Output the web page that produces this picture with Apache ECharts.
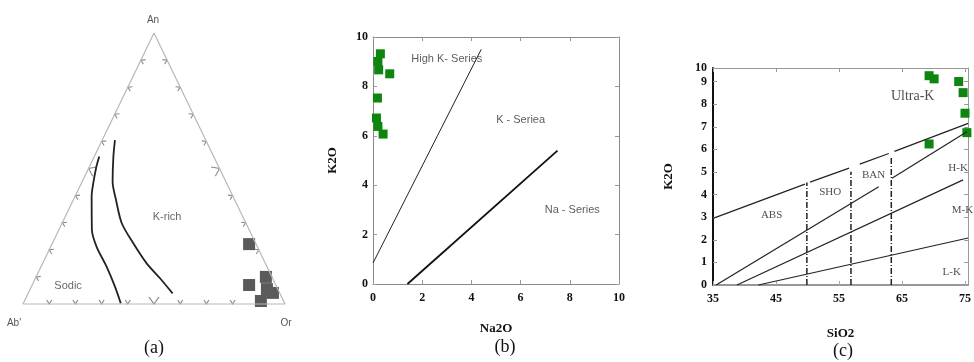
<!DOCTYPE html>
<html><head><meta charset="utf-8">
<script src="https://cdn.jsdelivr.net/npm/echarts@6/dist/echarts.min.js"></script>
<style>html,body{margin:0;padding:0;background:#fff}#c{width:974px;height:362px}</style>
</head><body><div id="c"></div>
<script>
// ---------- Panel (a): ternary An - Ab' - Or (plot units: x along base 0-100, y height 0-100) ----------
const aCorners = [[0,0],[100,0],[50,100],[0,0]];
const aTickFractions = [0.1,0.2,0.3,0.4,0.5,0.6,0.7,0.8,0.9];
const aSodicBoundary = [[29.1,54.4],[27.9,50.2],[26.6,43.3],[26.2,39.6],[26.3,27.3],[28.1,21.1],[31.9,13.8],[35.1,6.4],[37.3,0.3]];
const aKrichBoundary = [[35.1,60.5],[34.5,54.4],[34.2,45.1],[35.5,38.4],[37.7,29.8],[42.1,22.4],[47.2,15.0],[52.3,9.5],[57.1,3.9]];
const aSamples = [[86.3,22.1],[86.3,7.0],[92.7,10.0],[93.1,5.5],[95.4,4.1],[90.8,1.1]];
const aRegionNames = ['K-rich','Sodic'];
const aRegionAt = [[55,32.1],[17.2,6.6]];
const aVertexNames = ['An',"Ab'",'Or'];

// ---------- Panel (b): K2O vs Na2O ----------
const bHighKLine = [[0,0.85],[4.4,9.5]];
const bNaLine = [[1.4,0],[7.5,5.4]];
const bSamples = [[0.3,9.32],[0.2,9.01],[0.23,8.67],[0.68,8.51],[0.18,7.53],[0.14,6.72],[0.2,6.38],[0.41,6.07]];
const bRegionNames = ['High K- Series','K - Seriea','Na - Series'];
const bRegionAt = [[3.0,9.1],[6.0,6.65],[8.1,3.0]];

// ---------- Panel (c): K2O vs SiO2 ----------
const cUltraKLine = [[[35,2.95],[49.6,4.46]],[[50.4,4.55],[56.6,5.17]],[[58.3,5.35],[62.9,5.82]],[[63.8,5.91],[75.5,7.15]]];
const cShoLine = [[[35.5,0],[61.3,4.35]],[[63.4,4.72],[75.3,6.78]]];
const cHKLine = [[38.8,0],[74.7,4.65]];
const cMKLine = [[42.2,0],[75.5,2.08]];
const cDividers = [[[49.9,0],[49.9,4.53]],[[56.9,0],[56.9,5.01]],[[63.3,0],[63.3,5.68]]];
const cSamples = [[69.3,9.26],[70.1,9.12],[74.0,9.0],[74.7,8.51],[75.0,7.6],[75.3,6.74],[69.3,6.24]];
const cRegionNames = ['Ultra-K','ABS','SHO','BAN','H-K','M-K','L-K'];
const cRegionAt = [[66.7,8.33],[44.3,3.1],[53.6,4.13],[60.5,4.87],[73.9,5.16],[74.6,3.32],[72.9,0.59]];
const cYTop = 9.6;     // the reference's top tick, printed as "10"
const cYTopLabel = '10';

const panelLabels = ['(a)','(b)','(c)'];

// ---------- layout ----------
const serif = '"Liberation Serif","Times New Roman",serif';
const sans = '"Liberation Sans",Arial,sans-serif';
const G = [
  {left:23, top:33, width:262, height:271},
  {left:373, top:37, width:246, height:247},
  {left:713, top:68, width:260, height:217}
];

// chevron tick marks on the ternary sides
function triTickData() {
  const W = G[0].width, H = G[0].height, L = Math.hypot(W/2, H);
  const phi = Math.atan2(W/2, H) * 180 / Math.PI;
  const out = [];
  aTickFractions.forEach(f => {
    const big = Math.abs(f - 0.5) < 1e-9;
    const off = big ? 3.5 : 2;
    const size = big ? [10,7] : [5,4];
    out.push({value:[f*100, off/H*100], symbolSize:size, symbolRotate:0});
    out.push({value:[50*f + H/L*off*100/W, 100*f - (W/2)/L*off*100/H], symbolSize:size, symbolRotate:-(90+phi)});
    out.push({value:[100-50*f - H/L*off*100/W, 100*f - (W/2)/L*off*100/H], symbolSize:size, symbolRotate:(90+phi)});
  });
  return out;
}

function labelSeries(names, at, xi, yi, style) {
  return {type:'scatter', xAxisIndex:xi, yAxisIndex:yi, symbolSize:0, silent:true, clip:false, z:5,
    data: names.map((n,i)=>({name:n, value:at[i]})),
    label: Object.assign({show:true, position:'inside', formatter:'{b}'}, style)};
}
function seg(data, xi, yi, style) {
  return {type:'line', xAxisIndex:xi, yAxisIndex:yi, data, symbol:'none', silent:true, clip:false,
    lineStyle:style, z:3};
}

const tickFont = {fontFamily:serif, fontWeight:'bold', fontSize:12, color:'#111'};
const nameFont = {fontFamily:serif, fontWeight:'bold', fontSize:13, color:'#111'};

function mirror(type, gi, pos, min, max, interval, color) {
  return {type:'value', gridIndex:gi, position:pos, min, max, interval,
    axisLine:{show:true, onZero:false, lineStyle:{color, width:1}},
    axisTick:{show:true, inside:true, length:4, lineStyle:{color:'#999'}},
    axisLabel:{show:false}, splitLine:{show:false}};
}

const series = [];
// (a)
series.push(seg(aCorners, 0, 0, {color:'#b8b8b8', width:1.2}));
series.push({type:'scatter', xAxisIndex:0, yAxisIndex:0, silent:true, clip:false,
  symbol:'path://M0,0L5,6L10,0', data: triTickData(),
  itemStyle:{color:'rgba(0,0,0,0)', borderColor:'#8a8a8a', borderWidth:1, opacity:1}});
series.push(Object.assign(seg(aSodicBoundary, 0, 0, {color:'#222', width:1.8}), {smooth:0.3}));
series.push(Object.assign(seg(aKrichBoundary, 0, 0, {color:'#222', width:1.8}), {smooth:0.3}));
series.push({type:'scatter', xAxisIndex:0, yAxisIndex:0, symbol:'rect', symbolSize:12, clip:false,
  data:aSamples, itemStyle:{color:'#5a5a5a', opacity:1}});
series.push(labelSeries(aRegionNames, aRegionAt, 0, 0, {fontFamily:sans, fontSize:11, color:'#444'}));
// (b)
series.push(seg(bHighKLine, 1, 1, {color:'#222', width:1}));
series.push(seg(bNaLine, 1, 1, {color:'#111', width:1.8}));
series.push({type:'scatter', xAxisIndex:1, yAxisIndex:1, symbol:'rect', symbolSize:9, clip:false,
  data:bSamples, itemStyle:{color:'#0e850e', opacity:1}});
series.push(labelSeries(bRegionNames, bRegionAt, 1, 1, {fontFamily:sans, fontSize:11, color:'#333'}));
// (c)
cUltraKLine.forEach(s => series.push(seg(s, 3, 3, {color:'#222', width:1.2})));
cShoLine.forEach(s => series.push(seg(s, 3, 3, {color:'#222', width:1.2})));
series.push(seg(cHKLine, 3, 3, {color:'#222', width:1.2}));
series.push(seg(cMKLine, 3, 3, {color:'#222', width:1.2}));
cDividers.forEach(s => series.push(seg(s, 3, 3, {color:'#222', width:1.5, type:[6,2,1,2]})));
series.push({type:'scatter', xAxisIndex:3, yAxisIndex:3, symbol:'rect', symbolSize:9, clip:false,
  data:cSamples, itemStyle:{color:'#0e850e', opacity:1}});
series.push(labelSeries(cRegionNames.slice(0,1), cRegionAt.slice(0,1), 3, 3, {fontFamily:serif, fontSize:14, color:'#222'}));
series.push(labelSeries(cRegionNames.slice(1), cRegionAt.slice(1), 3, 3, {fontFamily:serif, fontSize:11, color:'#222'}));

const option = {
  animation:false,
  backgroundColor:'#fff',
  grid: G.map(g => Object.assign({containLabel:false}, g)),
  xAxis: [
    {type:'value', gridIndex:0, min:0, max:100, show:false},
    {type:'value', gridIndex:1, position:'bottom', min:0, max:10, interval:2,
      axisLine:{show:true, onZero:false, lineStyle:{color:'#888'}},
      axisTick:{show:true, inside:true, length:4, lineStyle:{color:'#999'}},
      axisLabel:Object.assign({margin:8}, tickFont), splitLine:{show:false},
      name:'Na2O', nameLocation:'middle', nameGap:38, nameTextStyle:nameFont},
    mirror('x', 1, 'top', 0, 10, 2, '#888'),
    {type:'value', gridIndex:2, position:'bottom', min:35, max:75.5, interval:10,
      axisLine:{show:true, onZero:false, lineStyle:{color:'#777', width:1.5}},
      axisTick:{show:true, inside:true, length:4, lineStyle:{color:'#aaa'}},
      axisLabel:Object.assign({margin:8, showMaxLabel:false}, tickFont), splitLine:{show:false},
      name:'SiO2', nameLocation:'middle', nameGap:42, nameTextStyle:nameFont},
    mirror('x', 2, 'top', 35, 75.5, 10, '#999')
  ],
  yAxis: [
    {type:'value', gridIndex:0, min:0, max:100, show:false},
    {type:'value', gridIndex:1, position:'left', min:0, max:10, interval:2,
      axisLine:{show:true, onZero:false, lineStyle:{color:'#888'}},
      axisTick:{show:true, inside:true, length:4, lineStyle:{color:'#999'}},
      axisLabel:Object.assign({margin:5}, tickFont), splitLine:{show:false},
      name:'K2O', nameLocation:'middle', nameGap:34, nameTextStyle:nameFont},
    mirror('y', 1, 'right', 0, 10, 2, '#888'),
    {type:'value', gridIndex:2, position:'left', min:0, max:cYTop, interval:1,
      axisLine:{show:true, onZero:false, lineStyle:{color:'#111', width:2}},
      axisTick:{show:true, inside:true, length:4, lineStyle:{color:'#999'}},
      axisLabel:Object.assign({margin:6, showMaxLabel:true,
        formatter: v => Math.abs(v - cYTop) < 1e-9 ? cYTopLabel : String(v)}, tickFont),
      splitLine:{show:false},
      name:'K2O', nameLocation:'middle', nameGap:38, nameTextStyle:nameFont},
    mirror('y', 2, 'right', 0, cYTop, 1, '#999')
  ],
  graphic: [
    {type:'text', x:153, y:20, style:{text:aVertexNames[0], font:'10px '+sans, fill:'#555', align:'center', verticalAlign:'middle'}},
    {type:'text', x:14, y:323, style:{text:aVertexNames[1], font:'10px '+sans, fill:'#555', align:'center', verticalAlign:'middle'}},
    {type:'text', x:286, y:323, style:{text:aVertexNames[2], font:'10px '+sans, fill:'#555', align:'center', verticalAlign:'middle'}},
    {type:'text', x:154, y:348, style:{text:panelLabels[0], font:'18px '+serif, fill:'#111', align:'center', verticalAlign:'middle'}},
    {type:'text', x:505, y:347, style:{text:panelLabels[1], font:'18px '+serif, fill:'#111', align:'center', verticalAlign:'middle'}},
    {type:'text', x:843, y:351, style:{text:panelLabels[2], font:'18px '+serif, fill:'#111', align:'center', verticalAlign:'middle'}}
  ],
  series
};
const chart = echarts.init(document.getElementById('c'));
chart.setOption(option);
</script>
</body></html>
